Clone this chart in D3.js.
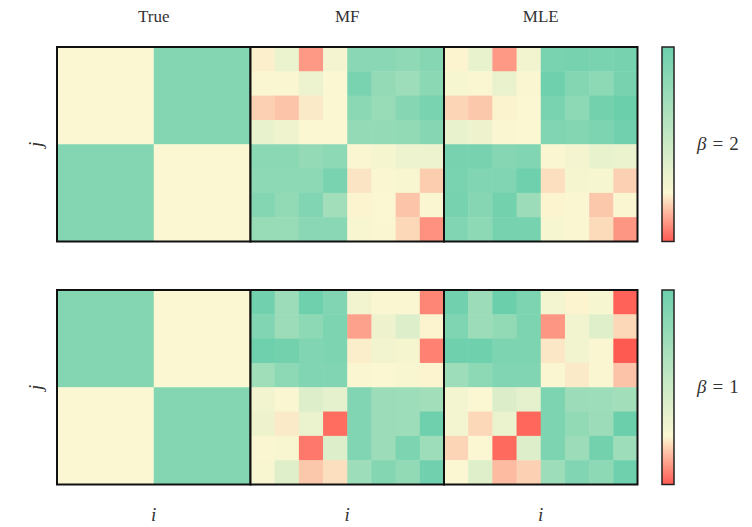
<!DOCTYPE html>
<html>
<head>
<meta charset="utf-8">
<script src="https://cdn.jsdelivr.net/npm/d3@7"></script>
<style>
  body { margin: 0; background: #fff; }
  text { font-family: "Liberation Serif", "DejaVu Serif", serif; fill: #333; }
</style>
</head>
<body>
<div id="chart"></div>
<script>
const width = 752, height = 527;

// panel titles and row labels
const panelTitles = ["True", "MF", "MLE"];
const betaValues = ["2", "1"];

// true block structure (2x2 blocks)
const trueTop = [
  [0.0, 2.5],
  [2.5, 0.0]
];
const trueBottom = [
  [2.5, 0.0],
  [0.0, 2.5]
];

// estimated matrices, beta = 2
const mfTop = [
  [-0.05, 0.35, -0.6, 0.15, 2.4, 2.4, 2.25, 2.45],
  [0.05, 0.05, 0.3, 0.02, 2.7, 2.15, 1.95, 2.35],
  [-0.25, -0.32, -0.08, 0.0, 2.35, 2.1, 2.45, 2.7],
  [0.4, 0.25, 0.0, 0.0, 2.15, 2.15, 2.2, 2.45],
  [2.35, 2.35, 2.15, 2.3, 0.05, 0.12, 0.3, 0.3],
  [2.3, 2.3, 2.3, 2.7, -0.12, 0.05, 0.08, -0.27],
  [2.5, 2.2, 2.55, 1.85, -0.02, 0.03, -0.32, 0.05],
  [2.1, 2.1, 2.4, 2.4, 0.08, 0.05, -0.2, -0.65]
];
const mleTop = [
  [-0.02, 0.4, -0.6, 0.22, 2.7, 2.8, 2.7, 2.8],
  [0.1, 0.05, 0.38, 0.05, 2.95, 2.5, 2.3, 2.75],
  [-0.22, -0.3, -0.03, 0.02, 2.7, 2.3, 2.85, 3.0],
  [0.4, 0.28, 0.05, 0.02, 2.55, 2.5, 2.65, 2.9],
  [2.75, 2.75, 2.45, 2.55, 0.05, 0.15, 0.4, 0.35],
  [2.7, 2.55, 2.55, 2.95, -0.15, 0.12, 0.1, -0.25],
  [2.8, 2.45, 2.85, 2.0, -0.02, 0.05, -0.3, 0.05],
  [2.55, 2.3, 2.8, 2.8, 0.1, 0.05, -0.18, -0.62]
];

// estimated matrices, beta = 1
const mfBottom = [
  [2.9, 2.0, 2.95, 2.55, 0.22, 0.05, 0.05, -0.72],
  [2.55, 2.0, 2.3, 2.65, -0.55, 0.28, 0.65, -0.02],
  [2.95, 2.85, 2.55, 2.65, -0.06, 0.22, 0.12, -0.75],
  [1.9, 2.3, 2.55, 2.55, 0.05, 0.02, 0.08, -0.02],
  [0.22, 0.05, 0.65, 0.48, 2.55, 2.0, 1.98, 1.85],
  [0.28, -0.08, 0.35, -0.88, 2.55, 2.0, 1.98, 2.95],
  [0.05, 0.08, -0.8, 0.65, 2.55, 2.0, 2.65, 1.95],
  [0.08, 0.6, -0.3, -0.15, 1.95, 2.5, 2.2, 2.9]
];
const mleBottom = [
  [2.9, 2.0, 3.0, 2.65, 0.18, -0.02, 0.1, -0.95],
  [2.6, 2.0, 2.2, 2.65, -0.62, 0.22, 0.6, -0.2],
  [2.95, 2.95, 2.65, 2.65, -0.1, 0.22, 0.05, -1.0],
  [1.98, 2.3, 2.55, 2.55, 0.05, -0.08, 0.05, -0.33],
  [0.18, 0.02, 0.68, 0.48, 2.65, 2.0, 1.98, 1.85],
  [0.18, -0.2, 0.35, -0.92, 2.65, 2.2, 2.0, 3.0],
  [-0.22, 0.0, -0.9, 0.65, 2.65, 2.0, 2.85, 1.98],
  [0.0, 0.6, -0.38, -0.24, 1.98, 2.55, 2.3, 2.95]
];

const rows = [
  [trueTop, mfTop, mleTop],
  [trueBottom, mfBottom, mleBottom]
];

const margin = { left: 57, top: 47 };
const panelW = 193.5, panelH = 194.5, rowGap = 48.5;

const colorScale = d3.scaleLinear()
  .domain([-1, 0, 3])
  .range(["#ff5a52", "#fbf7d2", "#6ccfac"])
  .clamp(true);

const svg = d3.select("#chart")
  .append("svg")
    .attr("width", width)
    .attr("height", height);

// colorbar gradient
const grad = svg.append("defs")
  .append("linearGradient")
    .attr("id", "cbar")
    .attr("x1", 0).attr("y1", 1).attr("x2", 0).attr("y2", 0);
grad.selectAll("stop")
  .data(d3.range(0, 1.0001, 0.05))
  .join("stop")
    .attr("offset", d => d)
    .attr("stop-color", d => colorScale(-1 + 4 * d));

rows.forEach((panels, r) => {
  const y0 = margin.top + r * (panelH + rowGap);

  panels.forEach((matrix, p) => {
    const x0 = margin.left + p * panelW;
    const n = matrix.length;
    const xScale = d3.scaleBand().domain(d3.range(n)).range([0, panelW]);
    const yScale = d3.scaleBand().domain(d3.range(n)).range([0, panelH]);

    const g = svg.append("g")
      .attr("transform", `translate(${x0}, ${y0})`);

    const cells = matrix.flatMap((row, i) => row.map((v, j) => ({ i, j, v })));
    g.selectAll("rect.cell")
      .data(cells)
      .join("rect")
        .attr("class", "cell")
        .attr("x", d => xScale(d.j))
        .attr("y", d => yScale(d.i))
        .attr("width", xScale.bandwidth() + 0.5)
        .attr("height", yScale.bandwidth() + 0.5)
        .attr("fill", d => colorScale(d.v));

    g.append("rect")
      .attr("width", panelW)
      .attr("height", panelH)
      .attr("fill", "none")
      .attr("stroke", "#111")
      .attr("stroke-width", 2);

    if (r === 0) {
      svg.append("text")
        .attr("x", x0 + panelW / 2)
        .attr("y", 22)
        .attr("text-anchor", "middle")
        .style("font-size", "17px")
        .text(panelTitles[p]);
    }
    if (r === 1) {
      svg.append("text")
        .attr("x", x0 + panelW / 2)
        .attr("y", 521)
        .attr("text-anchor", "middle")
        .style("font-size", "19px")
        .style("font-style", "italic")
        .text("i");
    }
  });

  // row axis label
  svg.append("text")
    .attr("transform", `translate(42, ${y0 + panelH / 2}) rotate(-90)`)
    .attr("text-anchor", "middle")
    .style("font-size", "19px")
    .style("font-style", "italic")
    .text("j");

  // colorbar
  svg.append("rect")
    .attr("x", 662)
    .attr("y", y0)
    .attr("width", 12)
    .attr("height", panelH)
    .attr("fill", "url(#cbar)")
    .attr("stroke", "#222")
    .attr("stroke-width", 1.5);

  const label = svg.append("text")
    .attr("x", 697)
    .attr("y", y0 + panelH / 2 + 6)
    .style("font-size", "19px");
  label.append("tspan")
    .style("font-style", "italic")
    .text("\u03B2");
  label.append("tspan")
    .attr("dx", 6)
    .text("=");
  label.append("tspan")
    .attr("dx", 6)
    .text(betaValues[r]);
});
</script>
</body>
</html>
